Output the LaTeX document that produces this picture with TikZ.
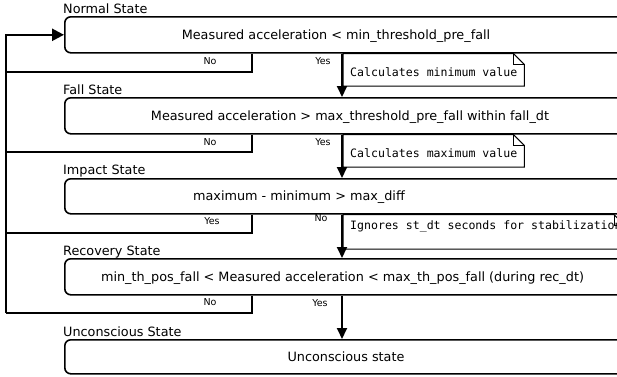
\documentclass[tikz,border=0pt]{standalone}
\usepackage{fontspec}
\setmainfont{DejaVu Sans}
\setmonofont{DejaVu Sans Mono}
\usetikzlibrary{arrows.meta}
\begin{document}
\begin{tikzpicture}[x=1pt,y=-1pt,
  statebox/.style={draw, line width=1.6pt, rounded corners=6pt, minimum width=620pt,
    minimum height=36pt, anchor=north west, inner sep=0pt},
  boxtext/.style={font=\fontsize{12.8}{15}\selectfont, inner sep=0pt, anchor=base},
  statelabel/.style={font=\fontsize{12.8}{15}\selectfont, inner sep=0pt, anchor=base west},
  branchlabel/.style={font=\fontsize{9.5}{11}\selectfont, inner sep=0pt},
  notetext/.style={font=\ttfamily\fontsize{11.56}{14}\selectfont, inner xsep=7pt, inner ysep=0pt,
    minimum height=32pt, text height=14pt, text depth=0pt, anchor=north west},
  noteline/.style={line width=1pt, line join=miter},
  flow/.style={line width=1.8pt, -{Triangle[length=11pt,width=10pt]}},
  ret/.style={line width=1.5pt, line join=miter},
  rail/.style={line width=2.4pt, line join=miter, -{Triangle[length=12pt,width=12pt]}}
]
\useasboundingbox (0,0) rectangle (617,376);
\clip (0,0) rectangle (617,376);

% state boxes (they run on past the right edge)
\node[statebox] (s1) at (64,16) {};
\node[statebox] (s2) at (64,97) {};
\node[statebox, minimum height=35pt] (s3) at (64,178) {};
\node[statebox] (s4) at (64,258) {};
\node[statebox, minimum height=34pt] (s5) at (64,339) {};

% state titles
\node[statelabel] (l1) at ([xshift=-1pt,yshift=2.5pt]s1.north west) {Normal State};
\node[statelabel] (l2) at ([xshift=-1pt,yshift=2.5pt]s2.north west) {Fall State};
\node[statelabel] (l3) at ([xshift=-1pt,yshift=3.5pt]s3.north west) {Impact State};
\node[statelabel] (l4) at ([xshift=-1pt,yshift=2.5pt]s4.north west) {Recovery State};
\node[statelabel] (l5) at ([xshift=-1pt,yshift=3pt]s5.north west) {Unconscious State};

% conditions
\node[boxtext] (t1) at (336,39) {Measured acceleration < min\_threshold\_pre\_fall};
\node[boxtext] (t2) at (350,120) {Measured acceleration > max\_threshold\_pre\_fall within fall\_dt};
\node[boxtext] (t3) at (299,200.5) {maximum - minimum > max\_diff};
\node[boxtext] (t4) at (342.5,281) {min\_th\_pos\_fall < Measured acceleration < max\_th\_pos\_fall (during rec\_dt)};
\node[boxtext] (t5) at (346,361) {Unconscious state};

% branch points on the bottom edges
\coordinate (n1) at ([xshift=188pt]s1.south west);
\coordinate (y1) at ([xshift=278pt]s1.south west);
\coordinate (n2) at ([xshift=188pt]s2.south west);
\coordinate (y2) at ([xshift=278pt]s2.south west);
\coordinate (n3) at ([xshift=188pt]s3.south west);
\coordinate (y3) at ([xshift=278pt]s3.south west);
\coordinate (n4) at ([xshift=188pt]s4.south west);
\coordinate (y4) at ([xshift=278pt]s4.south west);

% return rail on the left
\coordinate (r1) at (6,72);
\coordinate (r2) at (6,152);
\coordinate (r3) at (6,233);
\coordinate (r4) at (6,313);

\draw[ret] (n1) |- (r1);
\draw[ret] (n2) |- (r2);
\draw[ret] (n3) |- (r3);
\draw[ret] (n4) |- (r4);
\draw[rail] (r4) -- (r4 |- s1.west) -- (s1.west);

% forward arrows
\draw[flow] (y1) -- (y1 |- s2.north);
\draw[flow] (y2) -- (y2 |- s3.north);
\draw[flow] (y3) -- (y3 |- s4.north);
\draw[flow] (y4) -- (y4 |- s5.north);

% branch labels
\node[branchlabel] (b1n) at (210,61.5) {No};
\node[branchlabel] (b1y) at (323,61) {Yes};
\node[branchlabel] (b2n) at (210,142.5) {No};
\node[branchlabel] (b2y) at (323,142.5) {Yes};
\node[branchlabel] (b3y) at (212,221) {Yes};
\node[branchlabel] (b3n) at (321,218) {No};
\node[branchlabel] (b4n) at (210,302) {No};
\node[branchlabel] (b4y) at (320,303.5) {Yes};

% notes with a folded corner
\node[notetext] (m1) at ([xshift=1pt]y1) {Calculates minimum value};
\node[notetext] (m2) at ([xshift=1pt]y2) {Calculates maximum value};
\foreach \m in {m1,m2}{
  \draw[noteline] (\m.north west) -- ([xshift=-11pt]\m.north east) -- ([yshift=-11pt]\m.north east)
    -- (\m.south east) -- (\m.south west) -- cycle;
  \draw[noteline] ([xshift=-11pt]\m.north east) |- ([yshift=-11pt]\m.north east);
}
% the third note is wider than the page; its fold sits at the edge
\node[notetext, minimum height=34pt, text height=10pt, text depth=14pt] (m3) at ([xshift=1pt]y3) {Ignores st\_dt seconds for stabilization};
\coordinate (f3) at (614,0 |- m3.north);
\draw[noteline] (m3.north west) -- (f3) -- ([xshift=11pt,yshift=-11pt]f3)
  -- ([xshift=11pt]f3 |- m3.south) -- (m3.south west) -- cycle;
\draw[noteline] (f3) |- ([xshift=11pt,yshift=-11pt]f3);
\end{tikzpicture}
\end{document}
